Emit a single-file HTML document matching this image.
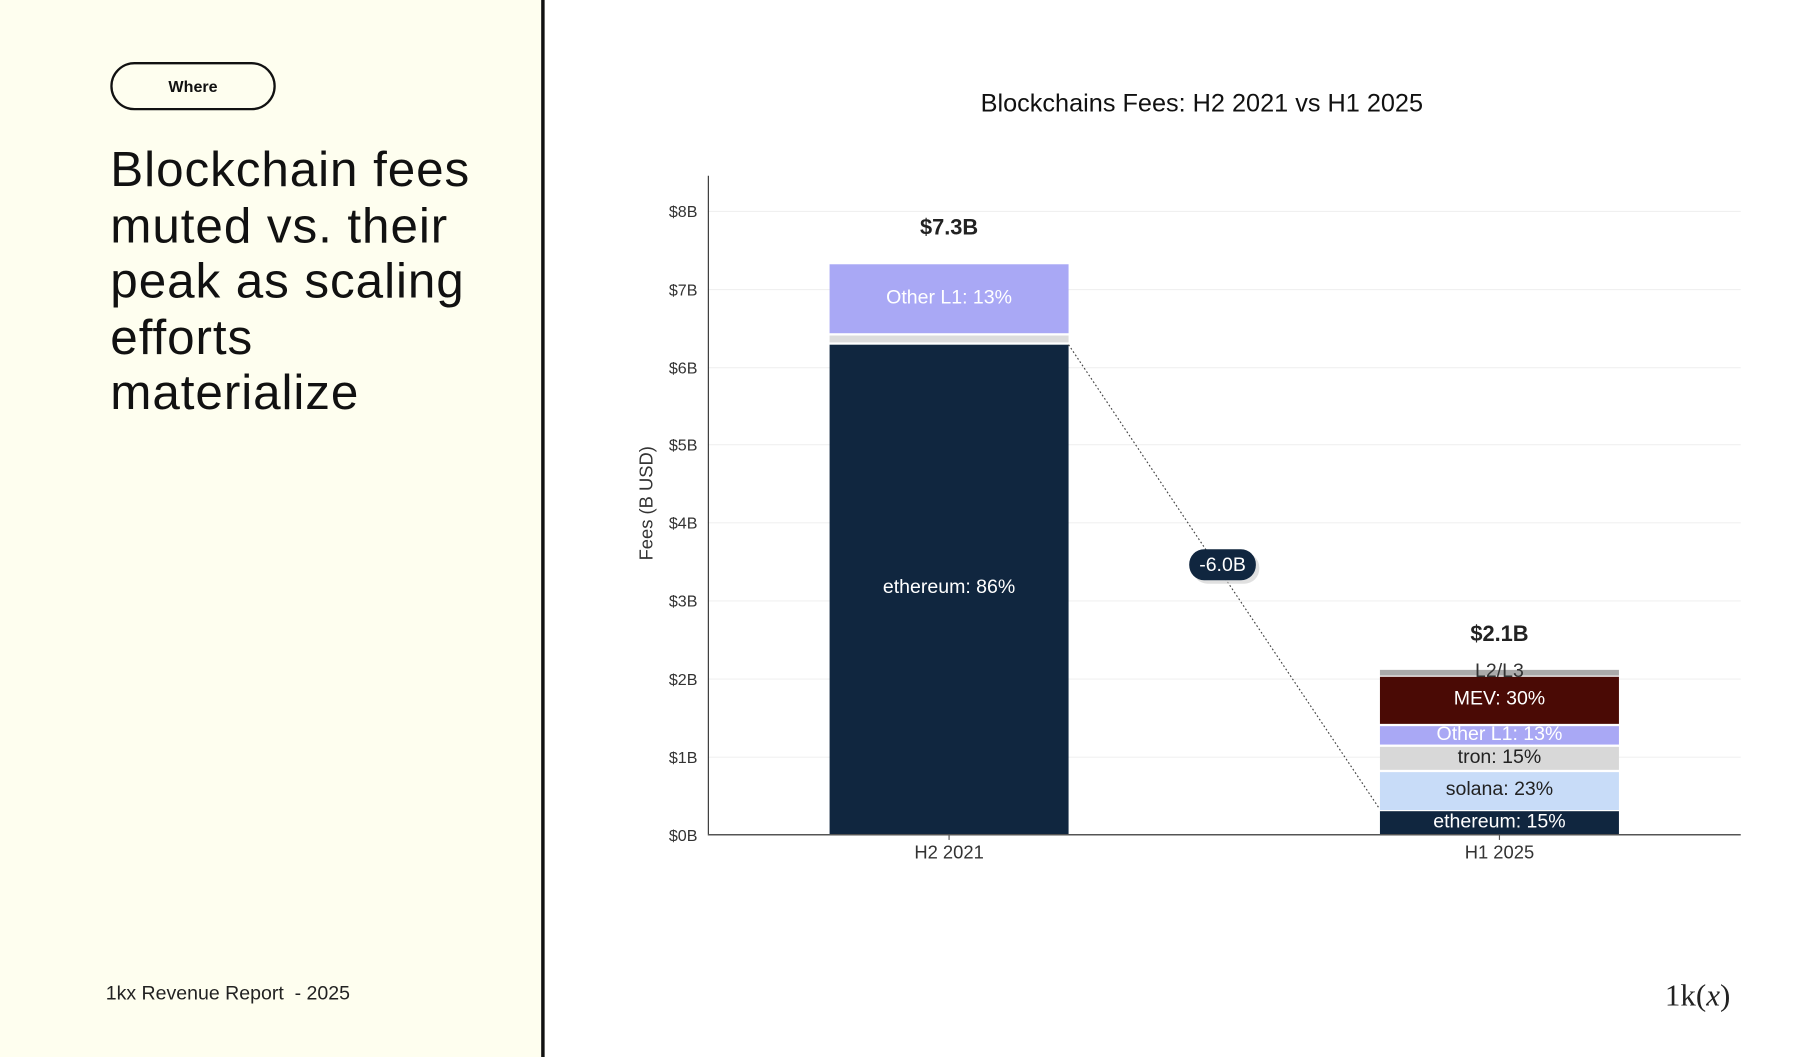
<!DOCTYPE html>
<html><head><meta charset="utf-8"><style>
html,body{margin:0;padding:0;width:1800px;height:1054px;overflow:hidden;background:#fff;}
#w{position:absolute;left:0;top:0;width:1570px;height:920px;transform:scale(1.149);transform-origin:0 0;font-family:"Liberation Sans",sans-serif;}
#left{position:absolute;left:0;top:0;width:471px;height:920px;background:#fefeef;border-right:3px solid #111;}
#pill{position:absolute;left:96px;top:54px;width:140px;height:38px;border:2px solid #111;border-radius:22px;font-weight:bold;font-size:14px;text-align:center;line-height:38px;color:#111;}
#h{position:absolute;left:96px;top:124px;font-size:43px;line-height:48.5px;color:#111;letter-spacing:0.8px;}
#foot{position:absolute;left:92px;top:855px;font-size:17px;color:#222;}
#logo{position:absolute;left:1449px;top:851px;font-size:27px;color:#222;font-family:"Liberation Serif",serif;}
</style></head><body><div id="w">
<div id="left">
<div id="pill">Where</div>
<div id="h">Blockchain fees<br>muted vs. their<br>peak as scaling<br>efforts<br>materialize</div>
<div id="foot">1kx Revenue Report &nbsp;- 2025</div>
</div>
<div id="logo">1k(<i>x</i>)</div>
<svg width="1570" height="920" style="position:absolute;left:0;top:0" font-family="Liberation Sans, sans-serif">
<text x="1046" y="97" font-size="22" text-anchor="middle" fill="#111">Blockchains Fees: H2 2021 vs H1 2025</text>
<g stroke="#f0f0f0" stroke-width="1">
<line x1="616" x2="1515" y1="184" y2="184"/><line x1="616" x2="1515" y1="252" y2="252"/><line x1="616" x2="1515" y1="320" y2="320"/><line x1="616" x2="1515" y1="387" y2="387"/><line x1="616" x2="1515" y1="455" y2="455"/><line x1="616" x2="1515" y1="523" y2="523"/><line x1="616" x2="1515" y1="591" y2="591"/><line x1="616" x2="1515" y1="659" y2="659"/>
</g>
<g font-size="14" fill="#333" text-anchor="end">
<text x="607" y="189">$8B</text><text x="607" y="257">$7B</text><text x="607" y="325">$6B</text><text x="607" y="392">$5B</text><text x="607" y="460">$4B</text><text x="607" y="528">$3B</text><text x="607" y="596">$2B</text><text x="607" y="664">$1B</text><text x="607" y="732">$0B</text>
</g>
<text transform="translate(568,438) rotate(-90)" font-size="16" text-anchor="middle" fill="#333">Fees (B USD)</text>
<rect x="722" y="300" width="208" height="426" fill="#10263f"/>
<rect x="722" y="292" width="208" height="6" fill="#dcdcdc"/>
<rect x="722" y="230" width="208" height="60" fill="#a9a8f5"/>
<text x="826" y="264" font-size="17" fill="#fff" text-anchor="middle">Other L1: 13%</text>
<text x="826" y="516" font-size="17" fill="#fff" text-anchor="middle">ethereum: 86%</text>
<text x="826" y="204" font-size="19" font-weight="bold" fill="#222" text-anchor="middle">$7.3B</text>
<rect x="1201" y="706" width="208" height="20" fill="#10263f"/>
<rect x="1201" y="672" width="208" height="33" fill="#c8dcf8"/>
<rect x="1201" y="650" width="208" height="20" fill="#d8d8d8"/>
<rect x="1201" y="632" width="208" height="16" fill="#a9a8f5"/>
<rect x="1201" y="589" width="208" height="41" fill="#4a0a05"/>
<rect x="1201" y="583" width="208" height="5" fill="#aaaaaa"/>
<text x="1305" y="720" font-size="17" fill="#fff" text-anchor="middle">ethereum: 15%</text>
<text x="1305" y="692" font-size="17" fill="#222" text-anchor="middle">solana: 23%</text>
<text x="1305" y="664" font-size="17" fill="#222" text-anchor="middle">tron: 15%</text>
<text x="1305" y="644" font-size="17" fill="#fff" text-anchor="middle">Other L1: 13%</text>
<text x="1305" y="613" font-size="17" fill="#fff" text-anchor="middle">MEV: 30%</text>
<text x="1305" y="589" font-size="17" fill="#333" text-anchor="middle">L2/L3</text>
<text x="1305" y="558" font-size="19" font-weight="bold" fill="#222" text-anchor="middle">$2.1B</text>
<line x1="616.5" y1="153" x2="616.5" y2="726" stroke="#333" stroke-width="1"/>
<line x1="616" y1="726.5" x2="1515" y2="726.5" stroke="#555" stroke-width="1.2"/>
<line x1="826" y1="726" x2="826" y2="731" stroke="#555"/><line x1="1305" y1="726" x2="1305" y2="731" stroke="#555"/>
<text x="826" y="747" font-size="16" fill="#333" text-anchor="middle">H2 2021</text>
<text x="1305" y="747" font-size="16" fill="#333" text-anchor="middle">H1 2025</text>
<line x1="930" y1="300" x2="1200" y2="703" stroke="#444" stroke-width="1" stroke-dasharray="1.5,2"/>
<rect x="1038" y="481" width="58" height="27" rx="13" fill="#ccc" opacity="0.6"/>
<rect x="1035" y="478" width="58" height="27" rx="13" fill="#10263f"/>
<text x="1064" y="497" font-size="17" fill="#fff" text-anchor="middle">-6.0B</text>
</svg>
</div></body></html>
